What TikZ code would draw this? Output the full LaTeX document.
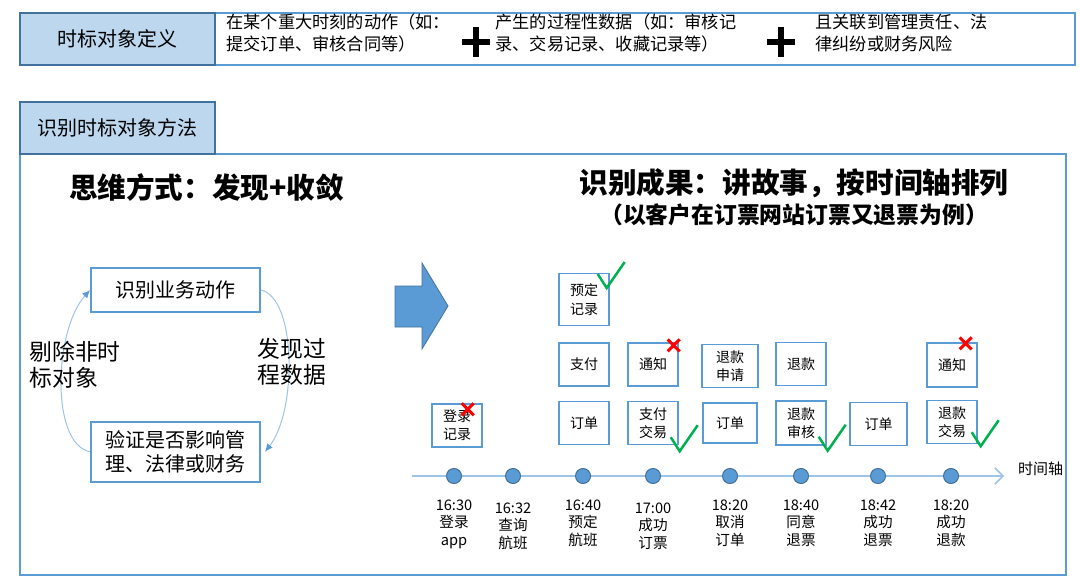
\documentclass[tikz,border=0pt]{standalone}
\usepackage{fontspec}
\setmainfont{Noto Sans CJK SC}
\usepackage{tikz}
\usetikzlibrary{positioning}
\usetikzlibrary{arrows.meta}

\definecolor{tabfill}{HTML}{BDD7EE}
\definecolor{tabline}{HTML}{41719C}
\definecolor{frameblue}{HTML}{5B9BD5}
\definecolor{axisblue}{HTML}{9DC3E6}
\definecolor{okgreen}{HTML}{00B050}
\definecolor{badred}{HTML}{FF0000}

\tikzset{
  outline/.style={draw=frameblue, line width=0.9pt},
  tab/.style={draw=tabline, fill=tabfill, line width=0.7pt, minimum width=97.5pt, minimum height=26pt, font=\fontsize{10}{12}\selectfont},
  deftext/.style={anchor=west, align=left, inner sep=1pt, font=\fontsize{8.6}{11}\selectfont},
  headline/.style={font=\bfseries\fontsize{14.3}{16}\selectfont},
  stepbox/.style={draw=frameblue, line width=0.9pt, minimum width=84.5pt, minimum height=22pt, align=center, font=\fontsize{10}{12}\selectfont},
  sidetext/.style={anchor=west, align=left, inner sep=0pt, font=\fontsize{11.4}{13}\selectfont},
  cycarrow/.style={draw=axisblue, line width=0.5pt, -{Latex[length=4pt,width=3.5pt,color=frameblue]}},
  evt/.style={draw=frameblue, line width=0.7pt, minimum width=25pt, minimum height=21.5pt, align=center, inner sep=1pt, font=\fontsize{7}{9.2}\selectfont},
  tdot/.style={circle, draw=tabline, fill=frameblue, line width=0.5pt, minimum size=7.5pt, inner sep=0pt},
  timeaxis/.style={draw=axisblue, line width=0.8pt, -{Straight Barb[length=4pt,width=8pt]}},
  when/.style={align=center, inner sep=1pt, font=\fontsize{7.3}{8.75}\selectfont},
  okmark/.pic={\draw[okgreen, line width=1.25pt] (-9,-14) -- (0,0) -- (18,-26);},
  nomark/.pic={\draw[badred, line width=1.5pt] (-6,-6) -- (6,6) (-6,6) -- (6,-6);},
  plusmark/.pic={\draw[line width=3pt] (-14,0) -- (14,0) (0,-15) -- (0,15);}
}

\begin{document}
\begin{tikzpicture}[x=0.5pt,y=-0.5pt]
  \useasboundingbox (0,0) rectangle (1080,588);

  \node[outline, minimum width=527.5pt, minimum height=26pt] (defbox) at (547.5,39) {};
  \node[tab] (deftitle) at (117.5,39) {时标对象定义};
  \node[deftext] (def1) at (224,33) {在某个重大时刻的动作（如：\\提交订单、审核合同等）};
  \pic at (476,42) {plusmark};
  \node[deftext] (def2) at (493,33) {产生的过程性数据（如：审核记\\录、交易记录、收藏记录等）};
  \pic at (781,42) {plusmark};
  \node[deftext] (def3) at (813,33) {且关联到管理责任、法\\律纠纷或财务风险};

  \node[outline, line width=0.8pt, minimum width=523pt, minimum height=210.5pt] (methbox) at (543,364.5) {};
  \node[tab] (methtitle) at (117.5,128) {识别时标对象方法};

  \node[headline, anchor=west] (mind) at (62,187) {思维方式：发现+收敛};
  \node[headline] (result) at (794,183) {识别成果：讲故事，按时间轴排列};
  \node[font=\bfseries\fontsize{11.4}{13}\selectfont] (sample) at (794,215) {（以客户在订票网站订票又退票为例）};

  \node[stepbox] (act) at (175.5,290) {识别业务动作};
  \node[stepbox, minimum height=30pt, below=54pt of act] (chk) {验证是否影响管\\理、法律或财务};
  \draw[cycarrow] (act.east) .. controls +(36,8) and +(32,-40) .. ([xshift=2pt]chk.east);
  \draw[cycarrow] (chk.west) .. controls +(-40,-8) and +(-36,40) .. (act.west);
  \node[sidetext] (drop) at (29,365) {剔除非时\\标对象};
  \node[sidetext] (find) at (257,362) {发现过\\程数据};

  \fill[frameblue, draw=tabline, line width=0.4pt] (395,286) -- (422,286) -- (422,263) -- (448,306) -- (422,349) -- (422,327) -- (395,327) -- cycle;

  \node[evt] (login) at (457,425.5) {登录\\记录};
  \node[evt] (ord1) at (584,423) {订单};
  \node[evt, above=7pt of ord1] (pay) {支付};
  \node[evt, minimum height=26pt, above=8pt of pay] (book) {预定\\记录};
  \node[evt] (paytx) at (653,423) {支付\\交易};
  \node[evt, above=7pt of paytx] (note1) {通知};
  \node[evt, minimum width=27pt, minimum height=20pt] (ord2) at (730,423) {订单};
  \node[evt, minimum width=28pt, above=7pt of ord2] (rfreq) {退款\\申请};
  \node[evt, minimum height=22pt] (rfchk) at (801,423) {退款\\审核};
  \node[evt, above=7pt of rfchk] (refund) {退款};
  \node[evt, minimum width=28.5pt] (ord3) at (878.5,424) {订单};
  \node[evt] (rftx) at (952,422) {退款\\交易};
  \node[evt, minimum height=22pt, above=6pt of rftx] (note2) {通知};

  \pic at ([shift={(-3,15)}]book.north east) {okmark};
  \pic at ([shift={(1,6)}]paytx.south east) {okmark};
  \pic at ([shift={(1,5)}]rfchk.south east) {okmark};
  \pic at ([shift={(3,2)}]rftx.south east) {okmark};
  \pic at ([shift={(-15,6)}]login.north east) {nomark};
  \pic at ([shift={(-5,3)}]note1.north east) {nomark};
  \pic at ([shift={(-12,1)}]note2.north east) {nomark};

  \coordinate (t0) at (412,476);
  \coordinate (t1) at (1004,476);
  \draw[timeaxis] (t0) -- (t1);
  \node[font=\fontsize{7.5}{9}\selectfont, anchor=west] (axislabel) at (1011,469) {时间轴};

  \node[tdot] (d1) at (454,476) {};
  \node[tdot] (d2) at (513,476) {};
  \node[tdot] (d3) at (583,476) {};
  \node[tdot] (d4) at (653,476) {};
  \node[tdot] (d5) at (730,476) {};
  \node[tdot] (d6) at (801,476) {};
  \node[tdot] (d7) at (878,476) {};
  \node[tdot] (d8) at (951,476) {};

  \node[when, below=6.5pt of d1] (w1) {16:30\\登录\\app};
  \node[when, below=8pt of d2] (w2) {16:32\\查询\\航班};
  \node[when, below=6.5pt of d3] (w3) {16:40\\预定\\航班};
  \node[when, below=8pt of d4] (w4) {17:00\\成功\\订票};
  \node[when, below=6.5pt of d5] (w5) {18:20\\取消\\订单};
  \node[when, below=6.5pt of d6] (w6) {18:40\\同意\\退票};
  \node[when, below=6.5pt of d7] (w7) {18:42\\成功\\退票};
  \node[when, below=6.5pt of d8] (w8) {18:20\\成功\\退款};
\end{tikzpicture}
\end{document}
